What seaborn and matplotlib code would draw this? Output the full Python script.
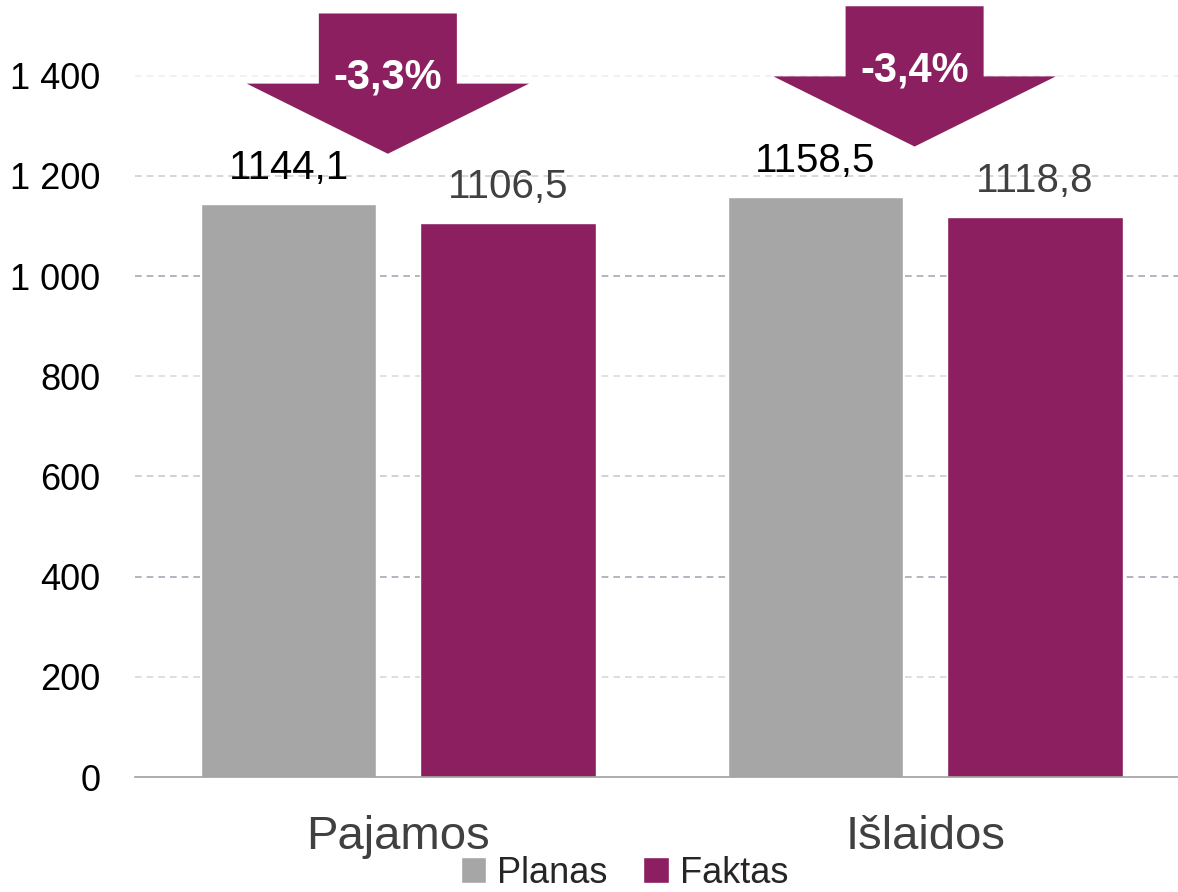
import numpy as np
import pandas as pd
import matplotlib
matplotlib.use('Agg')
import matplotlib.pyplot as plt
import seaborn as sns
from matplotlib.patches import Polygon, Patch
from matplotlib.ticker import FuncFormatter

categories = ['Pajamos', 'Išlaidos']
series = ['Planas', 'Faktas']
planas = [1144.1, 1158.5]
faktas = [1106.5, 1118.8]
changes = ['-3,3%', '-3,4%']
yticks = [0, 200, 400, 600, 800, 1000, 1200, 1400]

gray = '#a6a6a6'
purple = '#8b1f60'
# gridlines render unevenly in the original
grid_colors = ['#d8d8d8', '#a8a8b8', '#c8c8d0', '#dcdcdc', '#a8a8b8', '#d0d0d0', '#efefef']

df = pd.DataFrame({
    'cat': categories * 2,
    'series': ['Planas'] * 2 + ['Faktas'] * 2,
    'value': planas + faktas,
})

sns.set_style('white')
plt.rcParams['font.family'] = ['Liberation Sans', 'DejaVu Sans']

fig = plt.figure(figsize=(11.78, 8.92), dpi=100)
ax = fig.add_axes([0.1146, 0.1289, 0.8854, 0.8711])

sns.barplot(data=df, x='cat', y='value', hue='series', order=categories,
            hue_order=series, palette=[gray, purple], width=0.833, gap=0.2,
            saturation=1, legend=False, ax=ax, errorbar=None)

ax.set_xlim(-0.5, 1.48)
ax.set_ylim(0, 1551)
ax.set_yticks(yticks)
ax.yaxis.set_major_formatter(FuncFormatter(lambda v, p: f'{int(v):,}'.replace(',', ' ')))
ax.tick_params(axis='y', length=0, pad=25, labelsize=26, labelcolor='black')
ax.tick_params(axis='x', length=0, pad=27, labelsize=34, labelcolor='#404040')
ax.set_xlabel('')
ax.set_ylabel('')
for yv, gc in zip(yticks[1:], grid_colors):
    ax.axhline(yv, color=gc, linestyle=(0, (4, 3)), linewidth=1.2, zorder=0)
for s in ['top', 'right', 'left']:
    ax.spines[s].set_visible(False)
ax.spines['bottom'].set_color('#a0a0a0')
ax.spines['bottom'].set_linewidth(1.2)

label_colors = ['black', '#404040']
for cont, col in zip(ax.containers, label_colors):
    ax.bar_label(cont, labels=[f'{v:.1f}'.replace('.', ',') for v in cont.datavalues],
                 padding=12, fontsize=29, color=col)

# down arrows above each group
for i, (p, txt) in enumerate(zip(planas, changes)):
    cx = i - 0.02
    tip = p + 100
    base = tip + 140
    top = tip + 280
    sw, hw = 0.131, 0.268
    pts = [(cx - sw, top), (cx + sw, top), (cx + sw, base), (cx + hw, base),
           (cx, tip), (cx - hw, base), (cx - sw, base)]
    ax.add_patch(Polygon(pts, closed=True, facecolor=purple, edgecolor='none',
                         zorder=5, clip_on=False))
    ax.text(cx, base + 12, txt, ha='center', va='center', color='white',
            fontsize=30, fontweight='bold', zorder=6)

handles = [Patch(facecolor=gray, label='Planas'), Patch(facecolor=purple, label='Faktas')]
fig.legend(handles=handles, loc='lower center', bbox_to_anchor=(0.53, -0.035), ncol=2,
           frameon=False, fontsize=26, handlelength=0.7, handleheight=0.7,
           handletextpad=0.3, columnspacing=1.0)

fig.savefig('out.png', dpi=100)
